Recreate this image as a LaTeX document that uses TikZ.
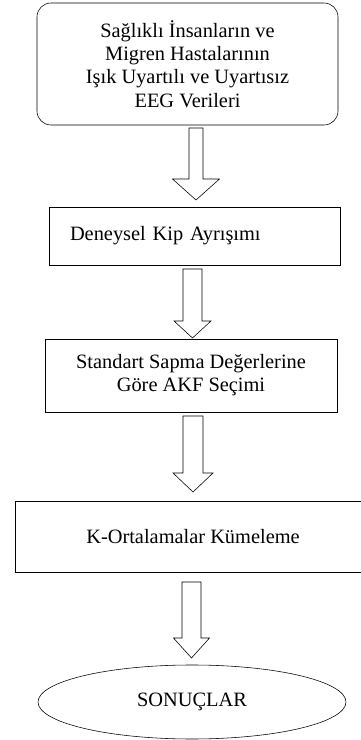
\documentclass[tikz,border=0pt]{standalone}
\usepackage{fontspec}
\setmainfont{Liberation Serif}
\usepackage{tikz}
\usetikzlibrary{shapes,positioning,calc}

\tikzset{
    box/.style={draw, rectangle, inner sep=0pt, align=center, font=\fontsize{14.5}{16.5}\selectfont},
    blockarrow/.style={draw, fill=white, line join=miter}
}

\begin{document}
\begin{tikzpicture}
    \useasboundingbox (0,0) rectangle (9,18.5);

    % Steps
    \node[box, rounded corners=0.35cm, minimum width=7.525cm, minimum height=3.05cm] (data) at (4.6875,16.9)
        {Sağlıklı İnsanların ve\\Migren Hastalarının\\Işık Uyartılı ve Uyartısız\\EEG Verileri};
    \node[box, minimum width=7.275cm, minimum height=1.45cm, text width=6.225cm, align=left] (emd) at (4.8625,12.6)
        {Deneysel Kip Ayrışımı\\[0.2cm]};
    \node[box, minimum width=7.3cm, minimum height=1.825cm] (akf) at (4.775,9.1125)
        {Standart Sapma Değerlerine\\Göre AKF Seçimi};
    \node[box, minimum width=8.9cm, minimum height=1.775cm] (kmeans) at (4.825,5.0875)
        {K-Ortalamalar Kümeleme};
    \node[box, ellipse, minimum width=7.7cm, minimum height=1.85cm] (result) at (4.8,0.95)
        {SONUÇLAR};

    % Arrows
    \draw[blockarrow] (4.725,15.3) -- (4.725,14.025) -- (4.3125,14.025) -- (4.9,13.5)
        -- (5.4875,14.025) -- (5.075,14.025) -- (5.075,15.3) -- cycle;
    \draw[blockarrow] (4.575,11.775) -- (4.575,10.475) -- (4.35,10.475) -- (4.8125,10.05)
        -- (5.275,10.475) -- (5.05,10.475) -- (5.05,11.775) -- cycle;
    \draw[blockarrow] (4.575,8.1) -- (4.575,6.675) -- (4.325,6.675) -- (4.825,6.2)
        -- (5.325,6.675) -- (5.075,6.675) -- (5.075,8.1) -- cycle;
    \draw[blockarrow] (4.55,3.95) -- (4.55,2.55) -- (4.3375,2.55) -- (4.7875,2.05)
        -- (5.2375,2.55) -- (5.025,2.55) -- (5.025,3.95) -- cycle;
\end{tikzpicture}
\end{document}
